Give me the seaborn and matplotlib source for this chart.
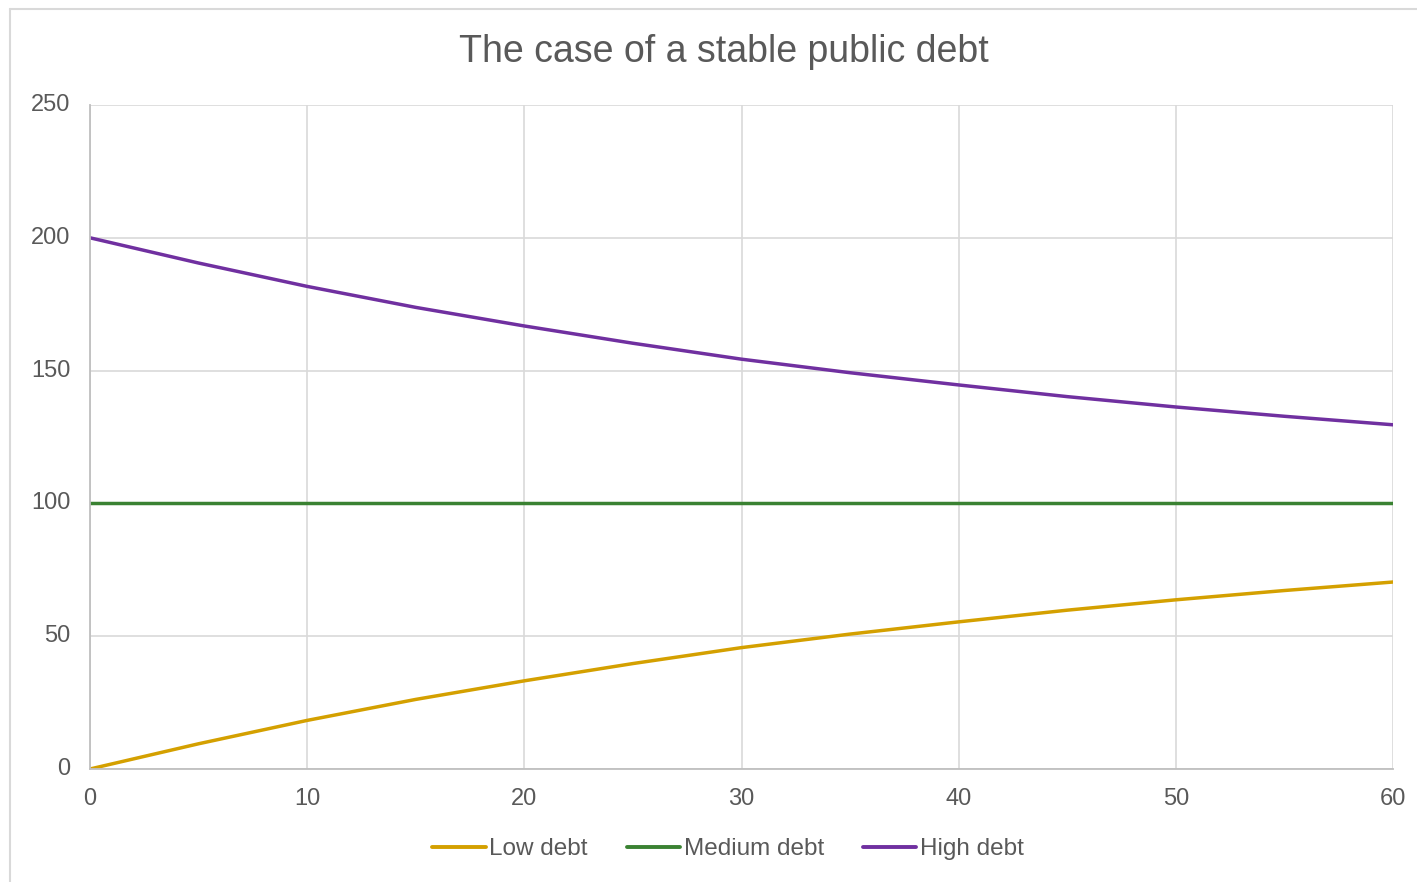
import matplotlib
matplotlib.use("Agg")
import matplotlib.pyplot as plt
import seaborn as sns
import pandas as pd
from matplotlib.lines import Line2D

years = [0, 5, 10, 15, 20, 25, 30, 35, 40, 45, 50, 55, 60]
low_debt = [0, 9.5, 18.3, 26.2, 33.2, 39.7, 45.7, 50.8, 55.4, 59.8, 63.7, 67.2, 70.4]
medium_debt = [100] * 13
high_debt = [200, 190.5, 181.7, 173.8, 166.8, 160.3, 154.3, 149.2, 144.6, 140.2, 136.3, 132.8, 129.6]
series_names = ["Low debt", "Medium debt", "High debt"]
colors = ["#D4A000", "#3A8232", "#7030A0"]

df = pd.concat([
    pd.DataFrame({"year": years, "value": v, "series": n})
    for n, v in zip(series_names, [low_debt, medium_debt, high_debt])
])

sns.set_theme(style="white")
plt.rcParams["font.family"] = ["Liberation Sans", "DejaVu Sans"]
text_color = "#595959"

fig = plt.figure(figsize=(14.17, 8.82), dpi=100)
ax = fig.add_axes([90/1417, 1-769/882, (1393-90)/1417, (769-105)/882])

sns.lineplot(data=df, x="year", y="value", hue="series", hue_order=series_names,
             palette=colors, linewidth=2.5, ax=ax, legend=False)

ax.set_xlim(0, 60)
ax.set_ylim(0, 250)
ax.set_xticks(range(0, 61, 10))
ax.set_yticks(range(0, 251, 50))
ax.grid(True, color="#D9D9D9", linewidth=1.2)
ax.set_axisbelow(True)
for s in ["top", "right"]:
    ax.spines[s].set_visible(False)
for s in ["left", "bottom"]:
    ax.spines[s].set_color("#BFBFBF")
    ax.spines[s].set_linewidth(1.3)
ax.tick_params(axis="both", labelsize=17, colors=text_color, length=0)
ax.tick_params(axis="x", pad=14)
ax.tick_params(axis="y", pad=14)
for lab in ax.get_yticklabels():
    lab.set_verticalalignment("center")
ax.set_xlabel("")
ax.set_ylabel("")

fig.text(724/1417, 1-52/882, "The case of a stable public debt", ha="center", va="center",
         fontsize=27, color=text_color)

handles = [Line2D([0], [0], color=c, lw=2.8) for c in colors]
fig.legend(handles, series_names, loc="center", bbox_to_anchor=(728/1417, 1-849/882),
           ncol=3, frameon=False, fontsize=17.5, handlelength=2.2, handletextpad=0.15,
           columnspacing=1.6, labelcolor=text_color)

# outer chart border (top and left visible)
fig.add_artist(Line2D([10/1417, 1.0], [1-9/882, 1-9/882], transform=fig.transFigure,
                      color="#D9D9D9", lw=1.5))
fig.add_artist(Line2D([10/1417, 10/1417], [0, 1-9/882], transform=fig.transFigure,
                      color="#D9D9D9", lw=1.5))

fig.savefig("out.png", dpi=100)
